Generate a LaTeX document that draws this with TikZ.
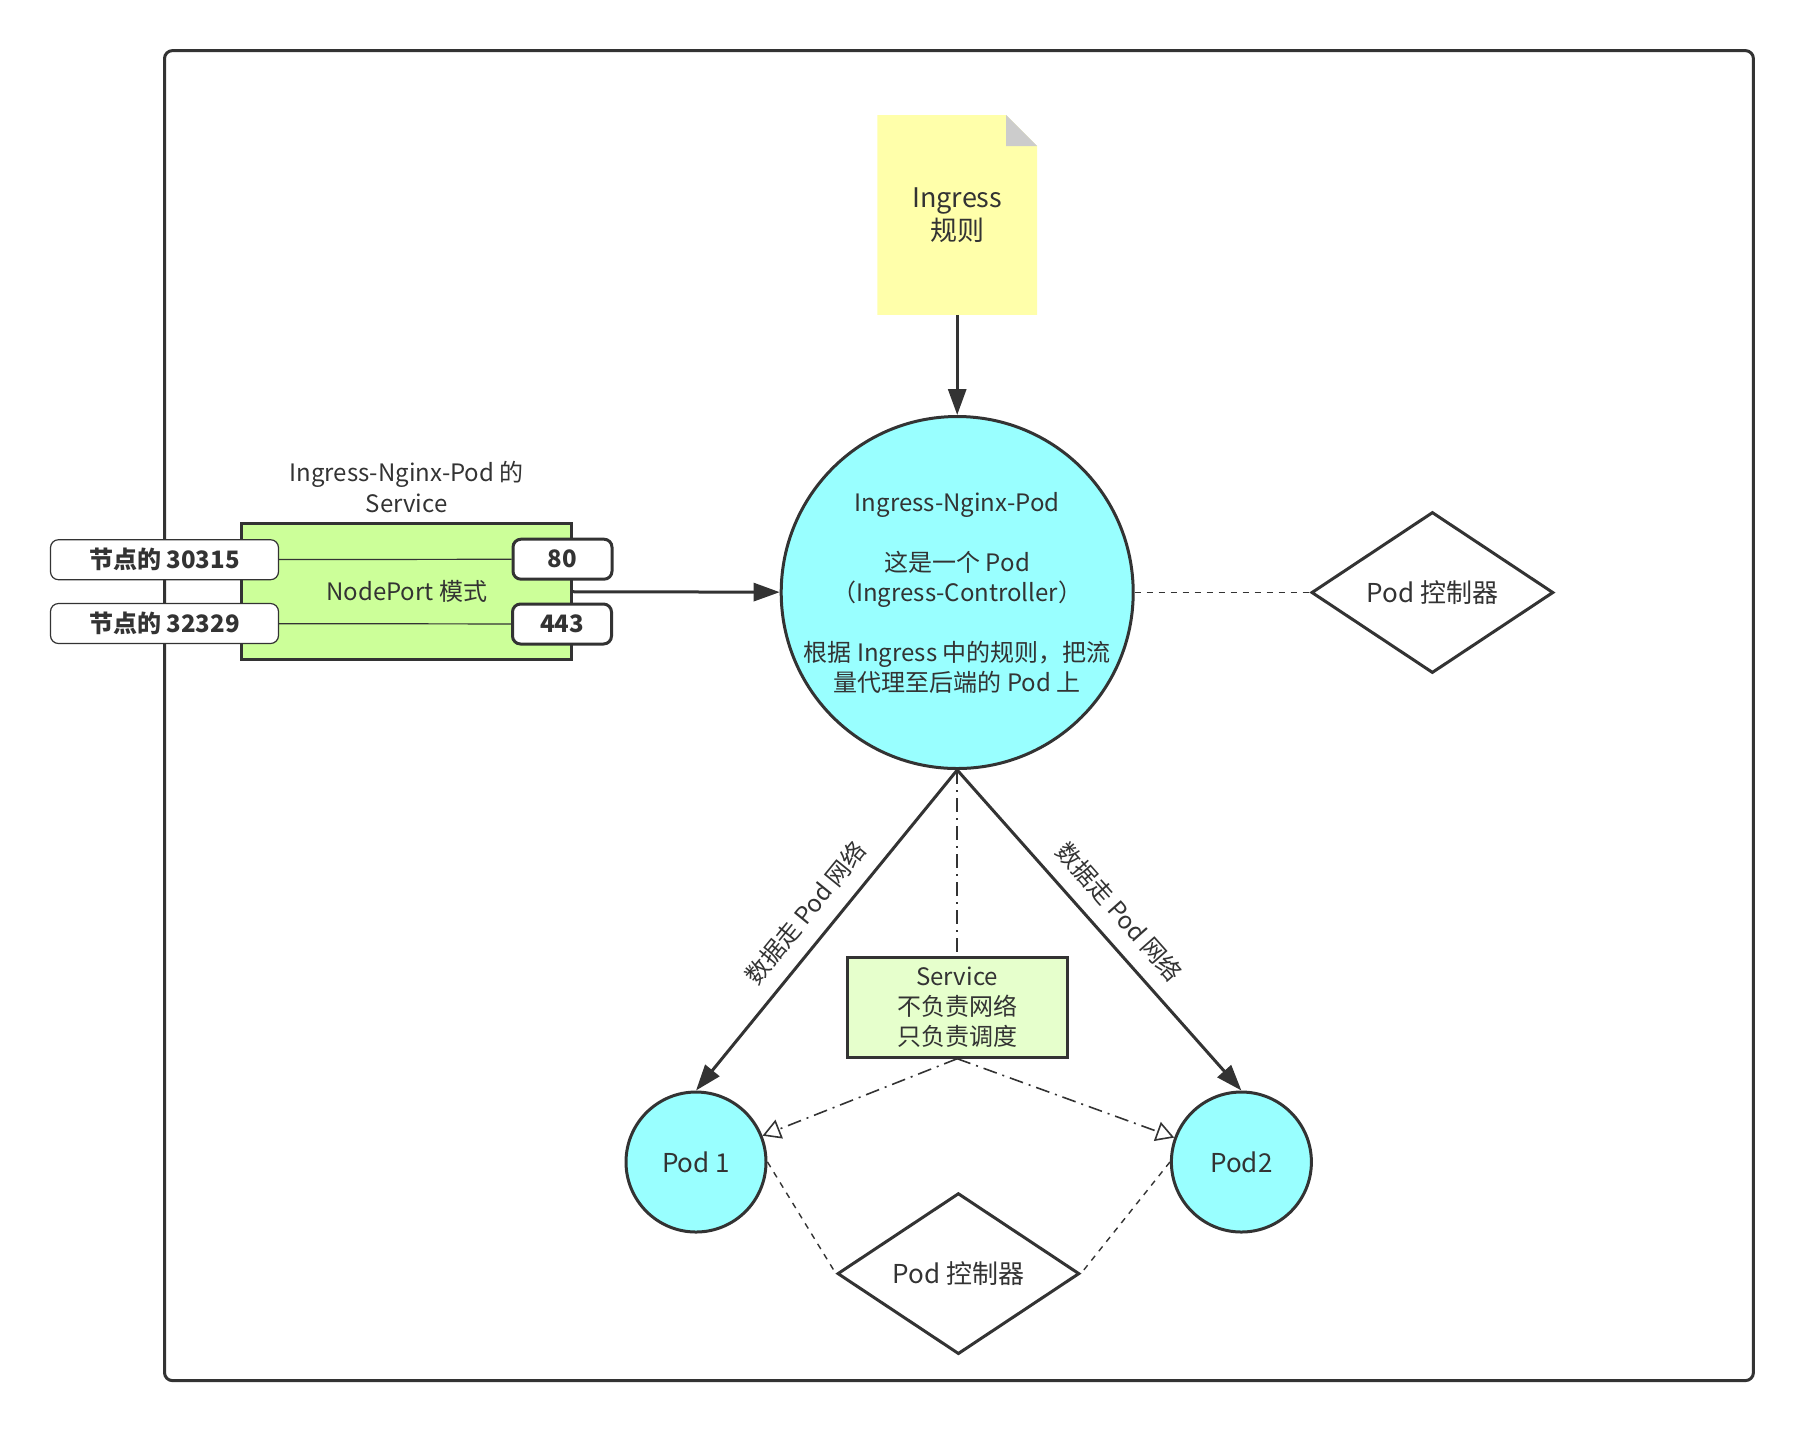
\documentclass[tikz,border=0pt]{standalone}
\usepackage{fontspec}
\setmainfont{Noto Sans CJK SC}
\usetikzlibrary{arrows.meta,shapes.geometric,positioning,backgrounds}
\definecolor{ink}{HTML}{333333}
\definecolor{podcyan}{HTML}{99FFFF}
\definecolor{svcgreen}{HTML}{CCFF99}
\definecolor{schedgreen}{HTML}{E6FFCC}
\definecolor{noteyellow}{HTML}{FFFFAA}
\definecolor{foldgray}{HTML}{CCCCCC}
\begin{document}
\begin{tikzpicture}[
  x=0.5pt, y=-0.5pt,
  every node/.style={text=ink, font=\fontsize{12}{15}\selectfont},
  pod/.style={circle, draw=ink, line width=1.5pt, fill=podcyan, inner sep=0pt, minimum size=70pt, font=\fontsize{13}{16}\selectfont},
  ctrl/.style={diamond, draw=ink, line width=1.5pt, fill=white, aspect=1.5, inner sep=0pt, minimum width=121pt, minimum height=80.5pt, font=\fontsize{13}{16}\selectfont},
  port/.style={draw=ink, fill=white, line width=0.6pt, rounded corners=4pt, inner sep=0pt, minimum height=20pt, font=\bfseries\fontsize{12}{14}\selectfont},
  line/.style={ink, line width=1.5pt},
  flow/.style={line, -{Triangle[length=13pt,width=9pt]}},
  link/.style={ink, line width=0.7pt, dash pattern=on 3pt off 3pt},
  sched/.style={ink, line width=0.8pt, dash pattern=on 7pt off 3pt on 1pt off 3pt}
]
  % Canvas
  \useasboundingbox (0,0) rectangle (1804,1432);
  \draw[line, rounded corners=4pt] (164.5,50.6) rectangle (1753.4,1380.6);

  % Ingress rule file
  \node[minimum width=79.5pt, minimum height=99.5pt, align=center, font=\fontsize{13.5}{16.5}\selectfont] (rule) at (957.2,215) {Ingress\\规则};
  \begin{scope}[on background layer]
    \fill[noteyellow] (rule.south west) -- (rule.north west) -- ([xshift=-15.5pt]rule.north east) -- ([yshift=-15.5pt]rule.north east) -- (rule.south east) -- cycle;
    \fill[foldgray] ([xshift=-15.5pt]rule.north east) -- ([yshift=-15.5pt]rule.north east) -- ([xshift=-15.5pt,yshift=-15.5pt]rule.north east) -- cycle;
  \end{scope}

  % Ingress controller
  \node[pod, inner sep=-20pt, minimum size=176pt, font=\fontsize{12}{15}\selectfont, align=center] (ingress) at (957.2,592.5)
    {Ingress-Nginx-Pod\\[15pt]这是一个 Pod\\（Ingress-Controller）\\[15pt]根据 Ingress 中的规则，把流\\量代理至后端的 Pod 上};
  \node[ctrl] (ctrl) at (1432.4,592.5) {Pod 控制器};

  % NodePort service
  \node[draw=ink, line width=1.5pt, fill=svcgreen, minimum width=165pt, minimum height=68pt] (svc) at (406.7,591.4) {NodePort 模式};
  \node[above=1pt of svc, align=center, font=\fontsize{12}{15.5}\selectfont] (svctitle) {Ingress-Nginx-Pod 的\\Service};
  \node[port, minimum width=114pt] (node1) at (164.5,559.7) {节点的 30315};
  \node[port, minimum width=114pt] (node2) at (164.5,623.5) {节点的 32329};
  \node[port, line width=1.5pt, minimum width=49.5pt] (port80) at (562.5,559.2) {80};
  \node[port, line width=1.5pt, minimum width=49.5pt] (port443) at (562,624) {443};
  \draw[ink, line width=0.6pt] (node1) -- (port80);
  \draw[ink, line width=0.6pt] (node2) -- (port443);

  % Backend
  \node[draw=ink, line width=1.5pt, fill=schedgreen, minimum width=110pt, minimum height=50pt, align=center] (sched) at (957.2,1007.2) {Service\\不负责网络\\只负责调度};
  \node[pod] (pod1) at (696,1162) {Pod 1};
  \node[pod] (pod2) at (1241.4,1162) {Pod2};
  \node[ctrl] (podctrl) at (958.4,1273.6) {Pod 控制器};

  % Connectors
  \draw[flow] (rule) -- (ingress);
  \draw[flow] (svc) -- (ingress);
  \draw[link] (ingress) -- (ctrl);
  \draw[flow] (ingress.south) -- node[sloped, above=4pt] (net1) {数据走 Pod 网络} (pod1.north);
  \draw[flow] (ingress.south) -- node[sloped, above=4pt] (net2) {数据走 Pod 网络} (pod2.north);
  \draw[sched] (ingress.south) -- (sched.north);
  \draw[sched, -{Triangle[open,length=9pt,width=10pt]}] (sched.south) -- (pod1);
  \draw[sched, -{Triangle[open,length=9pt,width=10pt]}] (sched.south) -- (pod2);
  \draw[link] (pod1.east) -- (podctrl.west);
  \draw[link] (pod2.west) -- (podctrl.east);
\end{tikzpicture}
\end{document}
